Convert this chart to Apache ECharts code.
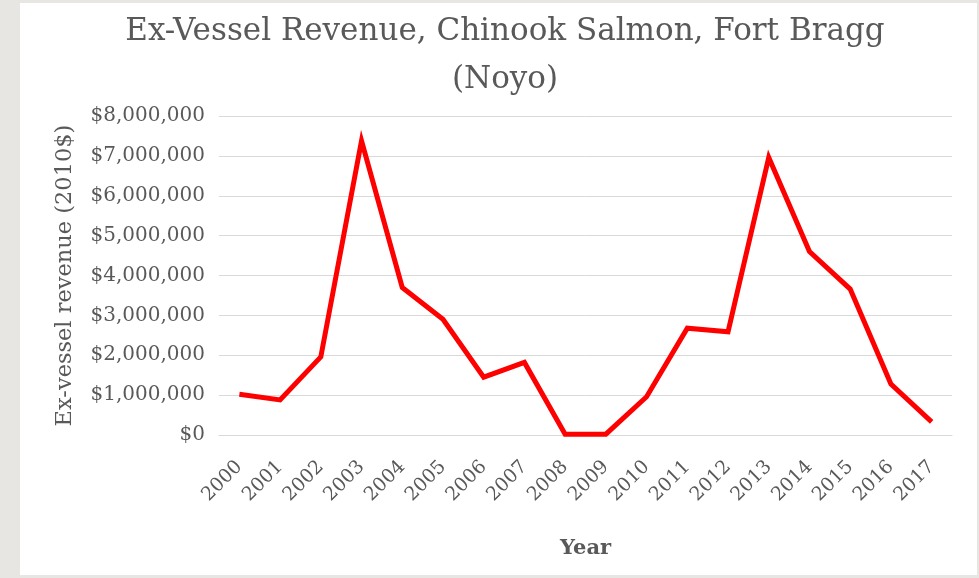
<!DOCTYPE html>
<html>
<head>
<meta charset="utf-8">
<script src="https://cdn.jsdelivr.net/npm/echarts@6/dist/echarts.min.js"></script>
<style>
  html, body { margin: 0; padding: 0; background: #e8e6e3; }
  #main { width: 979px; height: 578px; }
</style>
</head>
<body>
<div id="main"></div>
<script>
var years = ["2000", "2001", "2002", "2003", "2004", "2005", "2006", "2007", "2008",
  "2009", "2010", "2011", "2012", "2013", "2014", "2015", "2016", "2017"];
var revenue = [1020000, 880000, 1960000, 7380000, 3700000, 2900000, 1450000, 1820000, 20000,
  20000, 960000, 2680000, 2590000, 6960000, 4600000, 3660000, 1280000, 330000];
var yTicks = [0, 1000000, 2000000, 3000000, 4000000, 5000000, 6000000, 7000000, 8000000];

var serif = "'DejaVu Serif', 'Liberation Serif', serif";
var textGray = "#595959";

var chartDom = document.getElementById("main");
var myChart = echarts.init(chartDom);
var option;

option = {
  backgroundColor: "#e8e6e3",
  graphic: [
    {
      type: "rect",
      z: -10,
      shape: { x: 20, y: 3, width: 957, height: 572 },
      style: { fill: "#ffffff" }
    }
  ],
  title: {
    text: "Ex-Vessel Revenue, Chinook Salmon, Fort Bragg\n(Noyo)",
    left: 500,
    textAlign: "center",
    top: 3,
    textStyle: {
      fontFamily: serif,
      fontSize: 31,
      fontWeight: "normal",
      color: textGray,
      lineHeight: 48
    }
  },
  grid: {
    left: 219,
    right: 27,
    top: 116,
    bottom: 143
  },
  xAxis: {
    type: "category",
    data: years,
    boundaryGap: true,
    name: "Year",
    nameLocation: "middle",
    nameGap: 103,
    nameTextStyle: {
      fontFamily: serif,
      fontSize: 21,
      fontWeight: "bold",
      color: textGray
    },
    axisLine: { lineStyle: { color: "#d9d9d9", width: 1 } },
    axisTick: { show: false },
    axisLabel: {
      rotate: 45,
      interval: 0,
      margin: 29,
      fontFamily: serif,
      fontSize: 19,
      color: textGray
    }
  },
  yAxis: {
    type: "value",
    min: yTicks[0],
    max: yTicks[yTicks.length - 1],
    interval: yTicks[1] - yTicks[0],
    name: "Ex-vessel revenue (2010$)",
    nameLocation: "middle",
    nameGap: 142,
    nameRotate: 90,
    nameTextStyle: {
      fontFamily: serif,
      fontSize: 22.5,
      color: textGray
    },
    axisLine: { show: false },
    axisTick: { show: false },
    axisLabel: {
      margin: 14,
      fontFamily: serif,
      fontSize: 20,
      color: textGray,
      formatter: function (v) {
        return "$" + v.toLocaleString("en-US");
      }
    },
    splitLine: { lineStyle: { color: "#d9d9d9", width: 1 } }
  },
  series: [
    {
      type: "line",
      data: revenue,
      symbol: "none",
      lineStyle: { color: "#ff0000", width: 5, join: "miter" },
      animation: false
    }
  ]
};

option && myChart.setOption(option);
</script>
</body>
</html>
